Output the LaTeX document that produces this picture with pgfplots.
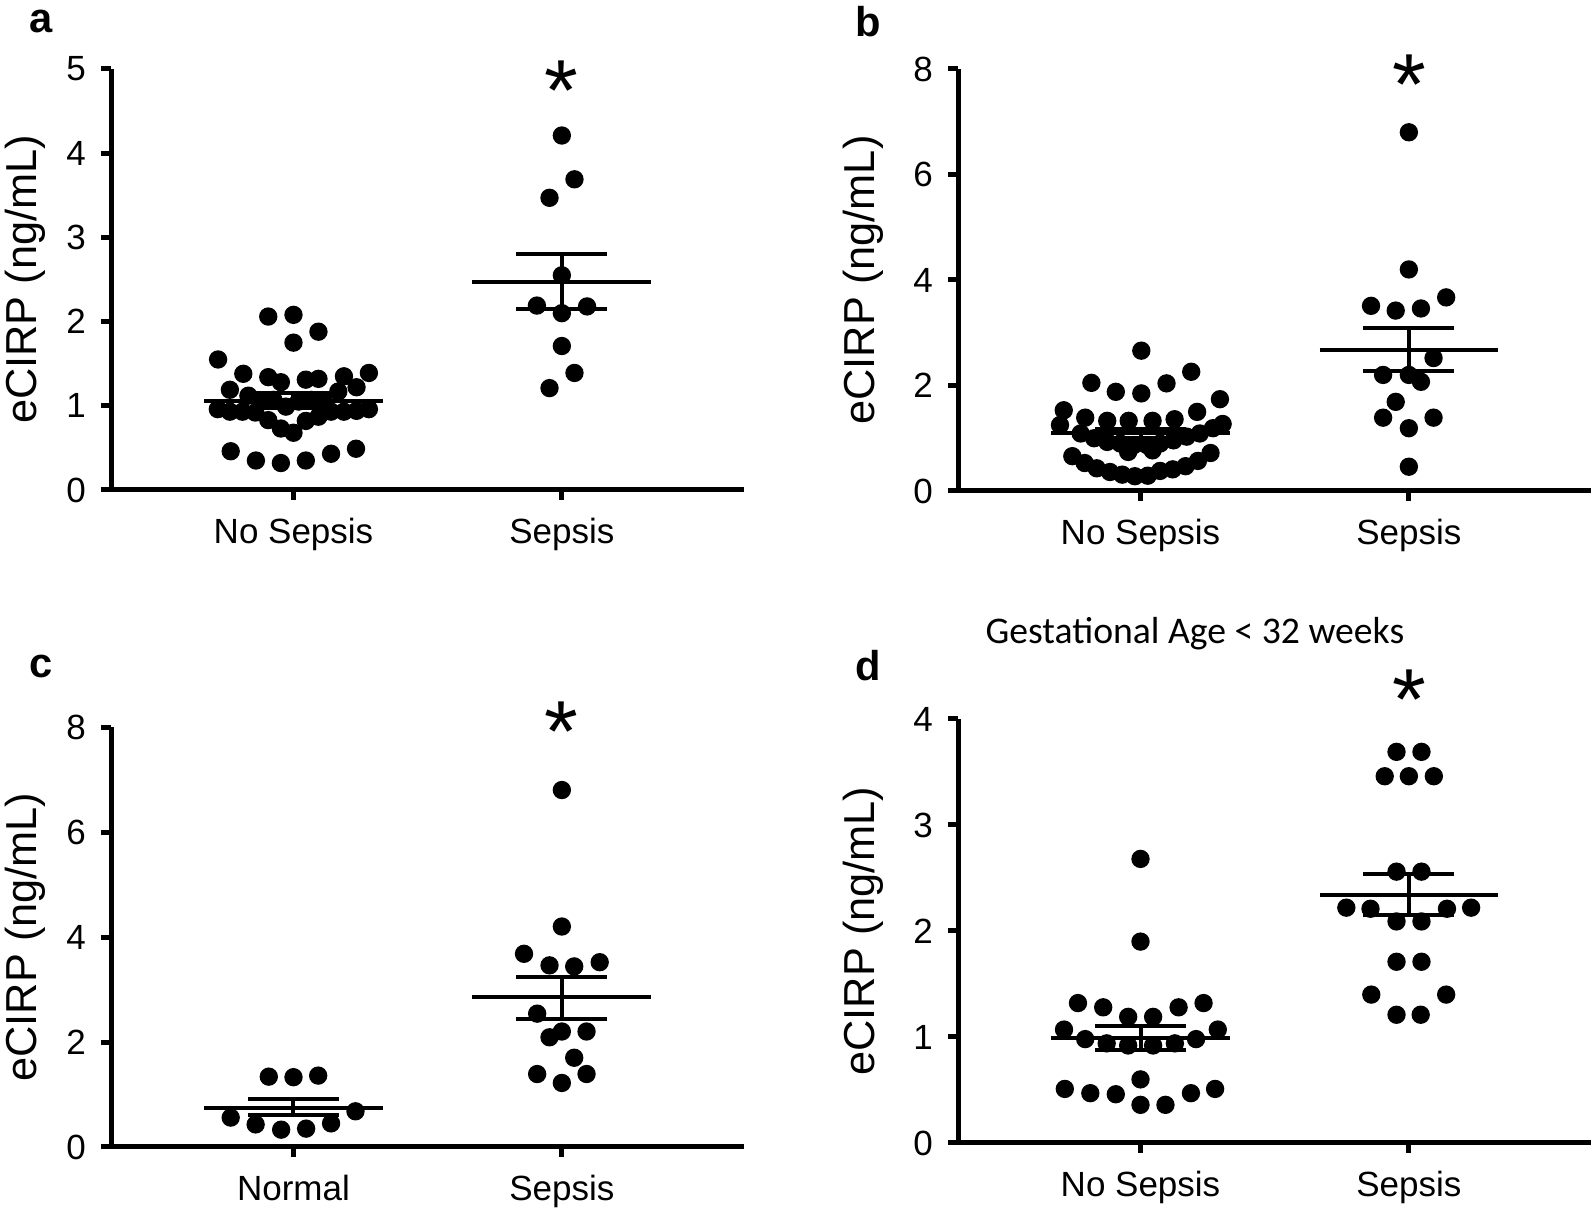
\documentclass[border=0pt]{standalone}
\usepackage{pgfplots}
\pgfplotsset{compat=1.18}
\usepackage{fontspec}
\setmainfont{Liberation Sans}
\newfontfamily\calibri{Carlito}

% 1 px of the reference = 0.3pt
\pgfplotsset{
  dotpanel/.style={
    scale only axis, width=190pt, height=126.3pt,
    axis x line*=bottom, axis y line*=left,
    axis line style={line width=1.5pt},
    every tick/.style={line width=1.5pt, black},
    major tick length=3pt, tick align=outside,
    xmin=0.32, xmax=2.68, ymin=0,
    xtick={1,2},
    clip=false,
    /pgf/number format/assume math mode=true,
    yticklabel style={font=\fontsize{10.5}{10.5}\selectfont, xshift=-1pt},
    xticklabel style={font=\fontsize{10.5}{10.5}\selectfont, yshift=-2pt},
    ylabel={eCIRP (ng/mL)},
    ylabel style={font=\fontsize{13}{13}\selectfont},
  },
  dots/.style={only marks, mark=*, mark size=2.55pt, black},
  meanline/.style={black, line width=1.2pt, forget plot},
}
\tikzset{
  star/.style={font=\fontsize{26}{26}\selectfont, anchor=base, yshift=-13.3pt, inner sep=0pt},
  letter/.style={font=\fontsize{12.5}{12.5}\selectfont\bfseries, anchor=center},
}

\begin{document}
\begin{tikzpicture}
\useasboundingbox (0,0) rectangle (478.2pt,363.3pt);

% ---------------- a ----------------
\begin{axis}[dotpanel, at={(33.3pt,216.3pt)}, anchor=south west,
  ymax=5, ytick={0,1,2,3,4,5}, xticklabels={No Sepsis, Sepsis},
  ylabel style={at={(axis description cs:-0.135,0.5)}, anchor=center}]
\addplot[dots] coordinates {
 (0.906,2.06) (1.000,2.08) (1.093,1.88) (1.000,1.75) (0.719,1.55)
 (0.813,1.38) (0.906,1.34) (0.953,1.28) (1.046,1.31) (1.093,1.32) (1.188,1.35) (1.281,1.39)
 (0.763,1.19) (0.832,1.12) (1.167,1.17) (1.235,1.22)
 (0.878,1.06) (0.925,1.07) (1.019,1.05) (1.066,1.07) (1.113,1.06) (0.972,0.99)
 (0.718,0.96) (0.763,0.93) (0.810,0.93) (0.858,0.92) (0.906,0.83) (0.953,0.73) (1.000,0.68)
 (1.046,0.82) (1.093,0.87) (1.140,0.93) (1.188,0.93) (1.235,0.94) (1.281,0.96)
 (0.766,0.46) (0.860,0.35) (0.953,0.32) (1.046,0.35) (1.140,0.43) (1.233,0.49)
};
\addplot[dots] coordinates {
 (2.000,4.21) (2.047,3.69) (1.954,3.47) (2.000,2.55) (1.907,2.19)
 (2.000,2.10) (2.094,2.18) (2.000,1.71) (2.047,1.39) (1.954,1.21)
};
\addplot[meanline] coordinates {(0.667,1.06) (1.333,1.06)};
\addplot[meanline] coordinates {(0.83,1.15) (1.17,1.15)};
\addplot[meanline] coordinates {(0.83,0.97) (1.17,0.97)};
\addplot[meanline] coordinates {(1,0.97) (1,1.15)};
\addplot[meanline] coordinates {(1.667,2.47) (2.333,2.47)};
\addplot[meanline] coordinates {(1.83,2.80) (2.17,2.80)};
\addplot[meanline] coordinates {(1.83,2.155) (2.17,2.155)};
\addplot[meanline] coordinates {(2,2.155) (2,2.80)};
\node[star] at (axis cs:2,4.92) {*};
\node[letter] at (rel axis cs:-0.110,1.112) {a};
\end{axis}

% ---------------- b ----------------
\begin{axis}[dotpanel, at={(287.4pt,216.0pt)}, anchor=south west, height=126.6pt,
  ymax=8, ytick={0,2,4,6,8}, xticklabels={No Sepsis, Sepsis},
  ylabel style={at={(axis description cs:-0.15,0.5)}, anchor=center}]
\addplot[dots] coordinates {
 (1.003,2.66) (0.817,2.05) (0.908,1.88) (1.003,1.85) (1.097,2.04) (1.189,2.26) (1.296,1.74)
 (0.714,1.53) (1.211,1.50)
 (0.794,1.39) (0.876,1.33) (0.956,1.33) (1.045,1.33) (1.127,1.36)
 (0.700,1.25) (1.306,1.27) (1.270,1.19)
 (0.777,1.09) (0.827,1.00) (0.876,0.93) (0.925,0.90) (0.975,0.87) (1.024,0.87)
 (1.073,0.90) (1.123,0.96) (1.172,1.03) (1.221,1.09)
 (0.954,0.74) (1.045,0.77)
 (0.746,0.66) (0.792,0.53) (0.837,0.43) (0.886,0.36) (0.932,0.31) (0.979,0.28)
 (1.027,0.29) (1.073,0.38) (1.120,0.41) (1.168,0.47) (1.214,0.57) (1.261,0.72)
};
\addplot[dots] coordinates {
 (2.000,6.80) (2.000,4.20) (1.859,3.51) (1.951,3.42) (2.045,3.46) (2.139,3.67)
 (2.092,2.52) (1.904,2.20) (2.000,2.20) (2.045,2.07) (1.951,1.69)
 (1.904,1.39) (2.092,1.39) (2.000,1.19) (2.000,0.46)
};
\addplot[meanline] coordinates {(0.667,1.09) (1.333,1.09)};
\addplot[meanline] coordinates {(0.83,1.18) (1.17,1.18)};
\addplot[meanline] coordinates {(0.83,1.00) (1.17,1.00)};
\addplot[meanline] coordinates {(1,1.00) (1,1.18)};
\addplot[meanline] coordinates {(1.667,2.68) (2.333,2.68)};
\addplot[meanline] coordinates {(1.83,3.09) (2.17,3.09)};
\addplot[meanline] coordinates {(1.83,2.28) (2.17,2.28)};
\addplot[meanline] coordinates {(2,2.28) (2,3.09)};
\node[star] at (axis cs:2,7.97) {*};
\node[letter] at (rel axis cs:-0.141,1.112) {b};
\end{axis}

% ---------------- c ----------------
\begin{axis}[dotpanel, at={(33.3pt,19.2pt)}, anchor=south west, height=126pt,
  ymax=8, ytick={0,2,4,6,8}, xticklabels={Normal, Sepsis},
  ylabel style={at={(axis description cs:-0.135,0.5)}, anchor=center}]
\addplot[dots] coordinates {
 (0.908,1.34) (1.000,1.33) (1.092,1.36) (1.231,0.68) (0.766,0.56)
 (0.859,0.43) (0.954,0.33) (1.047,0.35) (1.140,0.45)
};
\addplot[dots] coordinates {
 (2.000,6.80) (2.000,4.20) (1.859,3.68) (1.954,3.46) (2.046,3.44) (2.141,3.52)
 (1.908,2.54) (2.000,2.20) (1.954,2.09) (2.092,2.20) (2.046,1.70)
 (1.908,1.39) (2.092,1.39) (2.000,1.22)
};
\addplot[meanline] coordinates {(0.667,0.75) (1.333,0.75)};
\addplot[meanline] coordinates {(0.83,0.92) (1.17,0.92)};
\addplot[meanline] coordinates {(0.83,0.60) (1.17,0.60)};
\addplot[meanline] coordinates {(1,0.60) (1,0.92)};
\addplot[meanline] coordinates {(1.667,2.85) (2.333,2.85)};
\addplot[meanline] coordinates {(1.83,3.24) (2.17,3.24)};
\addplot[meanline] coordinates {(1.83,2.44) (2.17,2.44)};
\addplot[meanline] coordinates {(2,2.44) (2,3.24)};
\node[star] at (axis cs:2,8.19) {*};
\node[letter] at (rel axis cs:-0.110,1.145) {c};
\end{axis}

% ---------------- d ----------------
\begin{axis}[dotpanel, at={(287.4pt,20.4pt)}, anchor=south west, height=127.2pt,
  ymax=4, ytick={0,1,2,3,4}, xticklabels={No Sepsis, Sepsis},
  ylabel style={at={(axis description cs:-0.15,0.5)}, anchor=center},
  title={Gestational Age < 32 weeks},
  title style={font=\calibri\fontsize{11.3}{11.3}\selectfont,
    at={(axis description cs:0.374,1)}, anchor=center, yshift=19.5pt}]
\addplot[dots] coordinates {
 (1.000,2.68) (1.000,1.90) (0.767,1.32) (0.861,1.28) (0.954,1.19) (1.047,1.19)
 (1.142,1.28) (1.235,1.32) (0.715,1.07) (1.288,1.07) (0.794,0.98) (1.207,0.98)
 (0.874,0.94) (0.954,0.92) (1.047,0.92) (1.128,0.94) (1.000,0.60)
 (0.718,0.51) (0.813,0.47) (0.908,0.46) (1.000,0.36) (1.093,0.36) (1.188,0.47) (1.278,0.51)
};
\addplot[dots] coordinates {
 (1.954,3.69) (2.047,3.69) (1.910,3.46) (2.000,3.46) (2.093,3.46)
 (1.954,2.56) (2.047,2.56) (1.767,2.22) (1.857,2.21) (2.142,2.21) (2.232,2.22)
 (1.954,2.09) (2.047,2.09) (1.954,1.71) (2.047,1.71) (1.860,1.40) (2.139,1.40)
 (1.954,1.21) (2.044,1.21)
};
\addplot[meanline] coordinates {(0.667,0.99) (1.333,0.99)};
\addplot[meanline] coordinates {(0.83,1.10) (1.17,1.10)};
\addplot[meanline] coordinates {(0.83,0.88) (1.17,0.88)};
\addplot[meanline] coordinates {(1,0.88) (1,1.10)};
\addplot[meanline] coordinates {(1.667,2.34) (2.333,2.34)};
\addplot[meanline] coordinates {(1.83,2.54) (2.17,2.54)};
\addplot[meanline] coordinates {(1.83,2.15) (2.17,2.15)};
\addplot[meanline] coordinates {(2,2.15) (2,2.54)};
\node[star] at (axis cs:2,4.32) {*};
\node[letter] at (rel axis cs:-0.141,1.125) {d};
\end{axis}
\end{tikzpicture}
\end{document}
